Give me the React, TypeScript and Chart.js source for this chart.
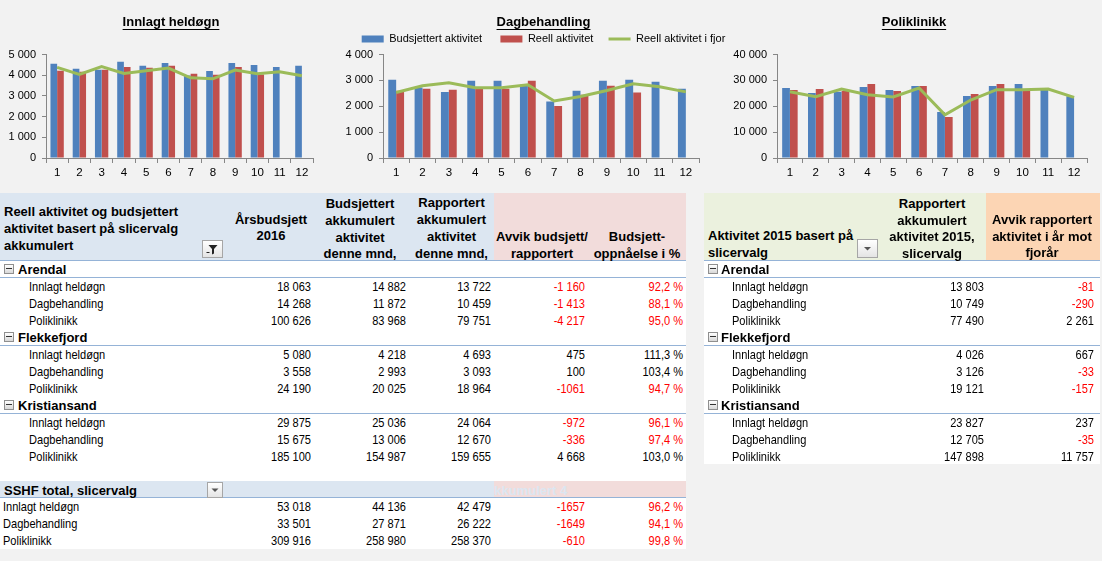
import React, { useEffect, useRef } from 'react';
import { Chart, registerables } from 'chart.js';

Chart.register(...registerables);

// ---------------- Chart data ----------------
const months = ['1', '2', '3', '4', '5', '6', '7', '8', '9', '10', '11', '12'];
const seriesLabels = ['Budsjettert aktivitet', 'Reell aktivitet', 'Reell aktivitet i fjor'];
const chartTitles = ['Innlagt heldøgn', 'Dagbehandling', 'Poliklinikk'];

const innlagtBudget = [4560, 4316, 4267, 4658, 4462, 4593, 3990, 4202, 4593, 4495, 4397, 4462];
const innlagtActual = [4218, 4169, 4267, 4397, 4365, 4462, 4072, 4023, 4397, 4039];
const innlagtLastYear = [4380, 4039, 4420, 4088, 4218, 4349, 3876, 3827, 4251, 4072, 4169, 3974];
const innlagtTicks = [0, 1000, 2000, 3000, 4000, 5000];

const dagBudget = [3026, 2727, 2558, 2987, 2987, 2831, 2182, 2597, 2987, 3026, 2948, 2675];
const dagActual = [2597, 2675, 2636, 2688, 2675, 2987, 2013, 2442, 2792, 2532];
const dagLastYear = [2532, 2792, 2909, 2714, 2714, 2831, 2208, 2377, 2610, 2870, 2753, 2558];
const dagTicks = [0, 1000, 2000, 3000, 4000];

const poliBudget = [27050, 25130, 25640, 27440, 26280, 27820, 17820, 23970, 27820, 28590, 26800, 23850];
const poliActual = [26280, 26670, 25900, 28590, 25900, 27820, 15900, 24740, 28590, 26280];
const poliLastYear = [25640, 23720, 26670, 24490, 23590, 27050, 16670, 22440, 26410, 26410, 26670, 23460];
const poliTicks = [0, 10000, 20000, 30000, 40000];

// ---------------- Table data ----------------
const units = ['Arendal', 'Flekkefjord', 'Kristiansand'];
const activities = ['Innlagt heldøgn', 'Dagbehandling', 'Poliklinikk'];
const annualBudget2016 = [['18 063', '14 268', '100 626'], ['5 080', '3 558', '24 190'], ['29 875', '15 675', '185 100']];
const budgetAccumulated = [['14 882', '11 872', '83 968'], ['4 218', '2 993', '20 025'], ['25 036', '13 006', '154 987']];
const reportedAccumulated = [['13 722', '10 459', '79 751'], ['4 693', '3 093', '18 964'], ['24 064', '12 670', '159 655']];
const deviationBudget = [['-1 160', '-1 413', '-4 217'], ['475', '100', '-1061'], ['-972', '-336', '4 668']];
const budgetAchievement = [['92,2 %', '88,1 %', '95,0 %'], ['111,3 %', '103,4 %', '94,7 %'], ['96,1 %', '97,4 %', '103,0 %']];
const totalLabel = 'SSHF total, slicervalg';
const totalAnnualBudget = ['53 018', '33 501', '309 916'];
const totalBudgetAccumulated = ['44 136', '27 871', '258 980'];
const totalReported = ['42 479', '26 222', '258 370'];
const totalDeviation = ['-1657', '-1649', '-610'];
const totalAchievement = ['96,2 %', '94,1 %', '99,8 %'];
const reported2015 = [['13 803', '10 749', '77 490'], ['4 026', '3 126', '19 121'], ['23 827', '12 705', '147 898']];
const deviationLastYear = [['-81', '-290', '2 261'], ['667', '-33', '-157'], ['237', '-35', '11 757']];

const leftHeaderTitle = ['Reell aktivitet og budsjettert', 'aktivitet basert på slicervalg', 'akkumulert'];
const leftColHeaders = [
  ['Årsbudsjett', '2016'],
  ['Budsjettert', 'akkumulert', 'aktivitet', 'denne mnd,'],
  ['Rapportert', 'akkumulert', 'aktivitet', 'denne mnd,'],
  ['Avvik budsjett/', 'rapportert'],
  ['Budsjett-', 'oppnåelse i %'],
];
const rightHeaderTitle = ['Aktivitet 2015 basert på', 'slicervalg'];
const rightColHeaders = [
  ['Rapportert', 'akkumulert', 'aktivitet 2015,', 'slicervalg'],
  ['Avvik rapportert', 'aktivitet i år mot', 'fjorår'],
];

// ---------------- Styles ----------------
const PAGE_BG = '#f2f2f2';
const LINE = '#95b3d7';
const RED = '#ff0000';
const BOLD = '"Liberation Sans", Arial, sans-serif';
const CHART_FONT = '"Liberation Sans", Arial, sans-serif';
const AXIS = '#868686';
const RH = 17;
const ROW0 = 261;

const fmt = (v: number) => {
  const s = Math.round(Math.abs(v)).toString().replace(/\B(?=(\d{3})+(?!\d))/g, ' ');
  return (v < 0 ? '-' : '') + s;
};

const isRed = (s: string) => {
  if (s.trim().startsWith('-')) return true;
  if (s.endsWith('%')) {
    const n = parseFloat(s.replace(/\s|%/g, '').replace(',', '.'));
    return n < 100;
  }
  return false;
};

type MiniProps = {
  title: string;
  budget: number[];
  actual: number[];
  lastYear: number[];
  ticks: number[];
  legend: boolean;
  left: number;
  width: number;
  yWidth: number;
  rightWidth: number;
};

function MiniChart(p: MiniProps) {
  const ref = useRef<HTMLCanvasElement>(null);
  useEffect(() => {
    const titleFont = { family: CHART_FONT, size: 13, weight: 'bold' as const };
    const tickFont = { family: CHART_FONT, size: 11 };
    const xFont = { family: CHART_FONT, size: 11.5 };
    const legendPad = ['     ', '    ', ''];
    const underline = {
      id: 'underlineTitle',
      afterDraw(chart: any) {
        const ctx = chart.ctx as CanvasRenderingContext2D;
        ctx.save();
        ctx.font = `bold 13px ${CHART_FONT}`;
        const w = ctx.measureText(p.title).width;
        const cx = chart.width / 2;
        ctx.strokeStyle = '#000';
        ctx.lineWidth = 1;
        ctx.beginPath();
        ctx.moveTo(cx - w / 2, 29.5);
        ctx.lineTo(cx + w / 2, 29.5);
        ctx.stroke();
        ctx.restore();
      },
    };
    const step = p.ticks[1] - p.ticks[0];
    const chart = new Chart(ref.current as HTMLCanvasElement, {
      type: 'bar',
      data: {
        labels: months,
        datasets: [
          {
            type: 'bar',
            label: seriesLabels[0],
            data: p.budget,
            backgroundColor: '#4f81bd',
            borderWidth: 0,
            pointStyle: 'rect',
            categoryPercentage: 0.6,
            barPercentage: 1,
            order: 1,
          } as any,
          {
            type: 'bar',
            label: seriesLabels[1],
            data: p.actual,
            backgroundColor: '#c0504d',
            borderWidth: 0,
            pointStyle: 'rect',
            categoryPercentage: 0.6,
            barPercentage: 1,
            order: 1,
          } as any,
          {
            type: 'line',
            label: seriesLabels[2],
            data: p.lastYear,
            borderColor: '#9bbb59',
            backgroundColor: '#9bbb59',
            borderWidth: 3,
            pointRadius: 0,
            pointStyle: 'line',
            tension: 0,
            order: 0,
          } as any,
        ],
      },
      options: {
        responsive: false,
        maintainAspectRatio: false,
        animation: false,
        layout: { padding: 0 },
        plugins: {
          title: {
            display: true,
            text: p.title,
            font: titleFont,
            color: '#000',
            padding: { top: 15, bottom: p.legend ? 0 : 24 },
          },
          legend: {
            display: p.legend,
            position: 'top',
            labels: {
              usePointStyle: true,
              pointStyleWidth: 22,
              boxHeight: 7,
              padding: 3,
              color: '#000',
              font: tickFont,
              sort: (a: any, b: any) => a.datasetIndex - b.datasetIndex,
              generateLabels: (chart: any) => {
                const items = (Chart.defaults.plugins.legend.labels as any).generateLabels(chart);
                return items.map((it: any) => ({ ...it, text: it.text + legendPad[it.datasetIndex] }));
              },
            },
          },
          tooltip: { enabled: false },
        },
        scales: {
          x: {
            grid: { display: true, drawOnChartArea: false, drawTicks: true, tickLength: 5, color: AXIS, offset: true },
            border: { display: true, color: AXIS },
            ticks: { font: xFont, color: '#000', padding: 3, maxRotation: 0, autoSkip: false },
            afterFit: (s: any) => {
              s.height = 22;
            },
          },
          y: {
            min: p.ticks[0],
            max: p.ticks[p.ticks.length - 1],
            ticks: {
              stepSize: step,
              font: tickFont,
              color: '#000',
              padding: 6,
              callback: (v: any) => fmt(Number(v)),
            },
            grid: { display: true, drawOnChartArea: false, drawTicks: true, tickLength: 4, color: AXIS },
            border: { display: true, color: AXIS },
            afterFit: (s: any) => {
              s.width = p.yWidth;
            },
          },
          y2: {
            position: 'right',
            display: true,
            grid: { display: false, drawTicks: false },
            border: { display: false },
            ticks: { display: false },
            afterFit: (s: any) => {
              s.width = p.rightWidth;
            },
          },
        },
      } as any,
      plugins: [underline],
    });
    return () => chart.destroy();
  }, []);
  return (
    <canvas
      ref={ref}
      width={p.width}
      height={180}
      style={{ position: 'absolute', left: p.left, top: 0, width: p.width, height: 180 }}
    />
  );
}

// ---------------- Table primitives ----------------
type TP = {
  x: number;
  yc: number;
  align?: 'left' | 'right' | 'center';
  bold?: boolean;
  color?: string;
  size?: number;
  children: React.ReactNode;
};

function T({ x, yc, align = 'left', bold = false, color = '#000', size, children }: TP) {
  let left = x;
  let width: number | undefined = undefined;
  if (align === 'right') {
    left = x - 200;
    width = 200;
  } else if (align === 'center') {
    left = x - 100;
    width = 200;
  }
  const fs = size ?? 13;
  return (
    <div
      style={{
        position: 'absolute',
        left,
        top: yc - 8.5,
        width,
        height: 17,
        lineHeight: '17px',
        textAlign: align,
        whiteSpace: 'nowrap',
        fontFamily: BOLD,
        fontWeight: bold ? 700 : 400,
        fontSize: fs,
        color,
        transform: bold ? undefined : 'scaleX(0.85)',
        transformOrigin: align === 'right' ? '100% 50%' : align === 'center' ? '50% 50%' : '0% 50%',
      }}
    >
      {children}
    </div>
  );
}

function Rect({ x, y, w, h, bg }: { x: number; y: number; w: number; h: number; bg: string }) {
  return <div style={{ position: 'absolute', left: x, top: y, width: w, height: h, background: bg }} />;
}

function MinusIcon({ x, yc }: { x: number; yc: number }) {
  return (
    <div
      style={{
        position: 'absolute',
        left: x,
        top: Math.round(yc - 5),
        width: 10,
        height: 10,
        boxSizing: 'border-box',
        border: '1px solid #8f8f8f',
        background: 'linear-gradient(#ffffff, #d8d8d8)',
      }}
    >
      <div style={{ position: 'absolute', left: 1, top: 3, width: 6, height: 1, background: '#333' }} />
    </div>
  );
}

function Btn({ x, y, w, h, funnel }: { x: number; y: number; w: number; h: number; funnel: boolean }) {
  const iw = w - 2;
  const ih = h - 2;
  return (
    <div
      style={{
        position: 'absolute',
        left: x,
        top: y,
        width: w,
        height: h,
        boxSizing: 'border-box',
        border: '1px solid #a6a6a6',
        background: 'linear-gradient(#ffffff, #e4e4e4)',
      }}
    >
      <svg width={iw} height={ih} style={{ display: 'block' }}>
        {funnel ? (
          <g fill="#222">
            <polygon points={`${iw / 2 - 4},4 ${iw / 2 + 5},4 ${iw / 2 + 1.5},8 ${iw / 2 + 1.5},12.5 ${iw / 2 - 0.5},13.5 ${iw / 2 - 0.5},8`} />
            <rect x={iw / 2 - 6} y={11} width={3} height={1} />
          </g>
        ) : (
          <polygon points={`${iw / 2 - 3.5},${ih / 2 - 1.5} ${iw / 2 + 3.5},${ih / 2 - 1.5} ${iw / 2},${ih / 2 + 2}`} fill="#555" />
        )}
      </svg>
    </div>
  );
}

// ---------------- Left table ----------------
function LeftTable() {
  const els: React.ReactNode[] = [];
  const W = 686;
  els.push(<Rect key="bg" x={0} y={193} w={W} h={356} bg="#ffffff" />);
  els.push(<Rect key="hb" x={0} y={193} w={494} h={67} bg="#dce6f1" />);
  els.push(<Rect key="hp" x={494} y={193} w={W - 494} h={67} bg="#f2dcdb" />);
  els.push(<Rect key="hl" x={0} y={260} w={W} h={1} bg={LINE} />);

  const titleY = [211.5, 228.5, 245.5];
  leftHeaderTitle.forEach((t, i) =>
    els.push(
      <T key={'ht' + i} x={4} yc={titleY[i]} bold>
        {t}
      </T>,
    ),
  );
  els.push(<Btn key="fb" x={202} y={240} w={21} h={18} funnel />);

  const c0 = [219, 235.5];
  leftColHeaders[0].forEach((t, i) =>
    els.push(
      <T key={'c0' + i} x={271} yc={c0[i]} bold align="center">
        {t}
      </T>,
    ),
  );
  const c4y = [203, 220, 237, 253.5];
  leftColHeaders[1].forEach((t, i) =>
    els.push(
      <T key={'c1' + i} x={360} yc={c4y[i]} bold align="center">
        {t}
      </T>,
    ),
  );
  leftColHeaders[2].forEach((t, i) =>
    els.push(
      <T key={'c2' + i} x={451.5} yc={c4y[i] - 0.5} bold align="center">
        {t}
      </T>,
    ),
  );
  els.push(
    <div
      key="c3"
      style={{ position: 'absolute', left: 494, top: 193, width: 94, height: 67, overflow: 'hidden' }}
    >
      <div
        style={{
          position: 'absolute',
          left: 0,
          top: 236 - 8.5 - 193,
          width: 94,
          lineHeight: '17px',
          paddingLeft: 2,
          boxSizing: 'border-box',
          whiteSpace: 'nowrap',
          textAlign: 'center',
          fontFamily: BOLD,
          fontWeight: 700,
          fontSize: 13,
        }}
      >
        {leftColHeaders[3][0]}
        <br />
        {leftColHeaders[3][1]}
      </div>
    </div>,
  );
  const c5y = [236, 253];
  leftColHeaders[4].forEach((t, i) =>
    els.push(
      <T key={'c4' + i} x={637} yc={c5y[i]} bold align="center">
        {t}
      </T>,
    ),
  );

  const colRight = [311, 406, 491, 585, 683];
  const cols = [annualBudget2016, budgetAccumulated, reportedAccumulated, deviationBudget, budgetAchievement];
  units.forEach((u, ui) => {
    const top = ROW0 + ui * 4 * RH;
    els.push(<MinusIcon key={'mi' + ui} x={4} yc={top + 8} />);
    els.push(
      <T key={'u' + ui} x={18} yc={top + 8.5} bold>
        {u}
      </T>,
    );
    els.push(<Rect key={'ul' + ui} x={0} y={top + 16} w={W} h={1} bg={LINE} />);
    activities.forEach((a, ai) => {
      const yc = top + (ai + 1) * RH + 8.5;
      els.push(
        <T key={`a${ui}${ai}`} x={29} yc={yc}>
          {a}
        </T>,
      );
      cols.forEach((c, ci) => {
        const v = c[ui][ai];
        els.push(
          <T key={`v${ui}${ai}${ci}`} x={colRight[ci]} yc={yc} align="right" color={isRed(v) ? RED : '#000'}>
            {v}
          </T>,
        );
      });
    });
  });

  const sTop = 481;
  els.push(<Rect key="sb" x={0} y={sTop} w={494} h={17} bg="#dce6f1" />);
  els.push(<Rect key="sp" x={494} y={sTop} w={W - 494} h={17} bg="#f2dcdb" />);
  els.push(<Rect key="sl" x={0} y={sTop + 16} w={W} h={1} bg={LINE} />);
  els.push(
    <T key="ghost" x={487} yc={sTop + 9} bold color="#dce6f1">
      akkumulert 4
    </T>,
  );
  els.push(
    <T key="st" x={4} yc={sTop + 9} bold>
      {totalLabel}
    </T>,
  );
  els.push(<Btn key="sbtn" x={207} y={sTop + 1} w={16} h={16} funnel={false} />);
  const tcols = [totalAnnualBudget, totalBudgetAccumulated, totalReported, totalDeviation, totalAchievement];
  activities.forEach((a, ai) => {
    const yc = sTop + (ai + 1) * RH + 8.5;
    els.push(
      <T key={'ta' + ai} x={3} yc={yc}>
        {a}
      </T>,
    );
    tcols.forEach((c, ci) => {
      const v = c[ai];
      els.push(
        <T key={`tv${ai}${ci}`} x={colRight[ci]} yc={yc} align="right" color={isRed(v) ? RED : '#000'}>
          {v}
        </T>,
      );
    });
  });
  return <>{els}</>;
}

// ---------------- Right table ----------------
function RightTable() {
  const els: React.ReactNode[] = [];
  const L = 704;
  const R = 1100;
  els.push(<Rect key="bg" x={L} y={193} w={R - L} h={271} bg="#ffffff" />);
  els.push(<Rect key="hg" x={L} y={193} w={986 - L} h={67} bg="#ebf1de" />);
  els.push(<Rect key="ho" x={986} y={193} w={R - 986} h={67} bg="#fcd5b4" />);
  els.push(<Rect key="hl" x={L} y={260} w={R - L} h={1} bg={LINE} />);
  const ty = [235, 252];
  rightHeaderTitle.forEach((t, i) =>
    els.push(
      <T key={'rt' + i} x={708} yc={ty[i]} bold>
        {t}
      </T>,
    ),
  );
  els.push(<Btn key="rb" x={857} y={239} w={21} h={19} funnel={false} />);
  const y4 = [203, 220, 236.5, 253];
  rightColHeaders[0].forEach((t, i) =>
    els.push(
      <T key={'r0' + i} x={932} yc={y4[i]} bold align="center">
        {t}
      </T>,
    ),
  );
  const y3 = [219.5, 236, 252.5];
  rightColHeaders[1].forEach((t, i) =>
    els.push(
      <T key={'r1' + i} x={1042} yc={y3[i]} bold align="center">
        {t}
      </T>,
    ),
  );
  const colRight = [984, 1094];
  const cols = [reported2015, deviationLastYear];
  units.forEach((u, ui) => {
    const top = ROW0 + ui * 4 * RH;
    els.push(<MinusIcon key={'mi' + ui} x={708} yc={top + 8} />);
    els.push(
      <T key={'u' + ui} x={721} yc={top + 8.5} bold>
        {u}
      </T>,
    );
    els.push(<Rect key={'ul' + ui} x={L} y={top + 16} w={R - L} h={1} bg={LINE} />);
    activities.forEach((a, ai) => {
      const yc = top + (ai + 1) * RH + 8.5;
      els.push(
        <T key={`a${ui}${ai}`} x={732} yc={yc}>
          {a}
        </T>,
      );
      cols.forEach((c, ci) => {
        const v = c[ui][ai];
        els.push(
          <T key={`v${ui}${ai}${ci}`} x={colRight[ci]} yc={yc} align="right" color={isRed(v) ? RED : '#000'}>
            {v}
          </T>,
        );
      });
    });
  });
  return <>{els}</>;
}

export default function App() {
  return (
    <div
      style={{
        position: 'fixed',
        left: 0,
        top: 0,
        width: 1102,
        height: 561,
        background: PAGE_BG,
        overflow: 'hidden',
      }}
    >
      <MiniChart
        title={chartTitles[0]}
        budget={innlagtBudget}
        actual={innlagtActual}
        lastYear={innlagtLastYear}
        ticks={innlagtTicks}
        legend={false}
        left={0}
        width={342}
        yWidth={46}
        rightWidth={29}
      />
      <MiniChart
        title={chartTitles[1]}
        budget={dagBudget}
        actual={dagActual}
        lastYear={dagLastYear}
        ticks={dagTicks}
        legend={true}
        left={340}
        width={407}
        yWidth={43}
        rightWidth={48}
      />
      <MiniChart
        title={chartTitles[2]}
        budget={poliBudget}
        actual={poliActual}
        lastYear={poliLastYear}
        ticks={poliTicks}
        legend={false}
        left={726}
        width={376}
        yWidth={51}
        rightWidth={15}
      />
      <LeftTable />
      <RightTable />
    </div>
  );
}
